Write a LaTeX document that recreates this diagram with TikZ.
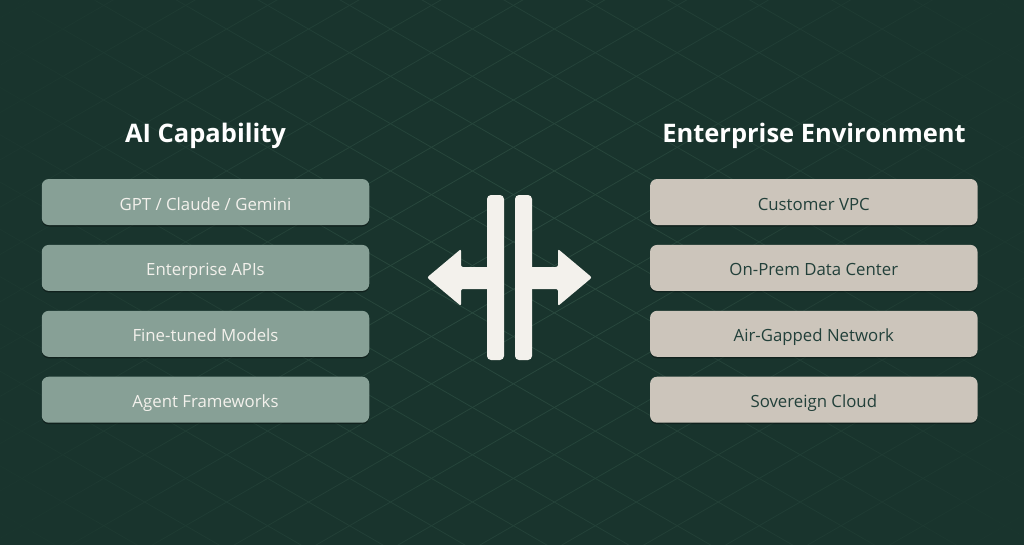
\documentclass[tikz,border=0pt]{standalone}
\usepackage{fontspec}
\setmainfont{Open Sans}
\usetikzlibrary{positioning,shadows}
\definecolor{bg}{HTML}{19342D}
\definecolor{gridline}{HTML}{2B4B40}
\definecolor{sage}{HTML}{87A096}
\definecolor{stone}{HTML}{CCC5BB}
\definecolor{cream}{HTML}{F3F1EC}
\definecolor{ink}{HTML}{22403A}
\tikzset{
    head/.style={font=\bfseries\fontsize{25.5}{30}\selectfont,text=white,anchor=base},
    capbox/.style={fill=sage,text=cream,rounded corners=7pt,minimum width=327.5pt,minimum height=46pt,inner sep=0pt,
        text height=16pt,text depth=0pt,font=\fontsize{16.8}{20}\selectfont,
        drop shadow={shadow xshift=0pt,shadow yshift=-1.5pt,opacity=.35,fill=black}},
    envbox/.style={capbox,fill=stone,text=ink},
}
\begin{document}
\begin{tikzpicture}[x=1pt,y=-1pt,line join=round]
                \useasboundingbox (0,0) rectangle (1024,544);
                \fill[bg] (-6,-6) rectangle (1030,550);
                % faint diagonal grid, fading out to the edges
                \begin{scope}[line width=.8pt]
                    \clip (-6,-6) rectangle (1030,550);
                    \foreach \k in {-8,...,18}{
                        \foreach \s in {0,...,31}{
                            \pgfmathsetmacro\xm{32*\s+16}
                            \pgfmathsetmacro\ya{349.1+47.3*\k-0.57735*\xm}
                            \pgfmathsetmacro\yb{-243.7+47.3*\k+0.57735*\xm}
                            \pgfmathsetmacro\pa{100*max(0,1-sqrt(((\xm-512)/600)^2+((\ya-272)/600)^2))}
                            \pgfmathsetmacro\pb{100*max(0,1-sqrt(((\xm-512)/600)^2+((\yb-272)/600)^2))}
                            \draw[gridline!\pa!bg] (\xm-16,\ya+9.24)--(\xm+16,\ya-9.24);
                            \draw[gridline!\pb!bg] (\xm-16,\yb-9.24)--(\xm+16,\yb+9.24);
                        }
                    }
                \end{scope}
                \node[head] (aicap) at (205.5,142.7) {AI Capability};
                \node[head] (entenv) at (814,142.7) {Enterprise Environment};
                \node[capbox] (gpt) at (205.5,202) {GPT / Claude / Gemini};
                \node[capbox,below=19.5pt of gpt] (apis) {Enterprise APIs};
                \node[capbox,below=19.5pt of apis] (tuned) {Fine-tuned Models};
                \node[capbox,below=19.5pt of tuned] (agents) {Agent Frameworks};
                \node[envbox] (vpc) at (813.8,202) {Customer VPC};
                \node[envbox,below=19.5pt of vpc] (onprem) {On-Prem Data Center};
                \node[envbox,below=19.5pt of onprem] (airgap) {Air-Gapped Network};
                \node[envbox,below=19.5pt of airgap] (sovereign) {Sovereign Cloud};
                % the two walls with arrows going out
                \fill[cream,rounded corners=2pt] (427,277.5)--(461,249)--(461,267)--(490,267)--(490,289)--(461,289)--(461,306)--cycle;
                \fill[cream,rounded corners=2pt] (592,277.5)--(558,249)--(558,267)--(529,267)--(529,289)--(558,289)--(558,306)--cycle;
                \fill[cream,rounded corners=4pt] (487,195) rectangle (504,360);
                \fill[cream,rounded corners=4pt] (515,195) rectangle (532,360);
\end{tikzpicture}
\end{document}
